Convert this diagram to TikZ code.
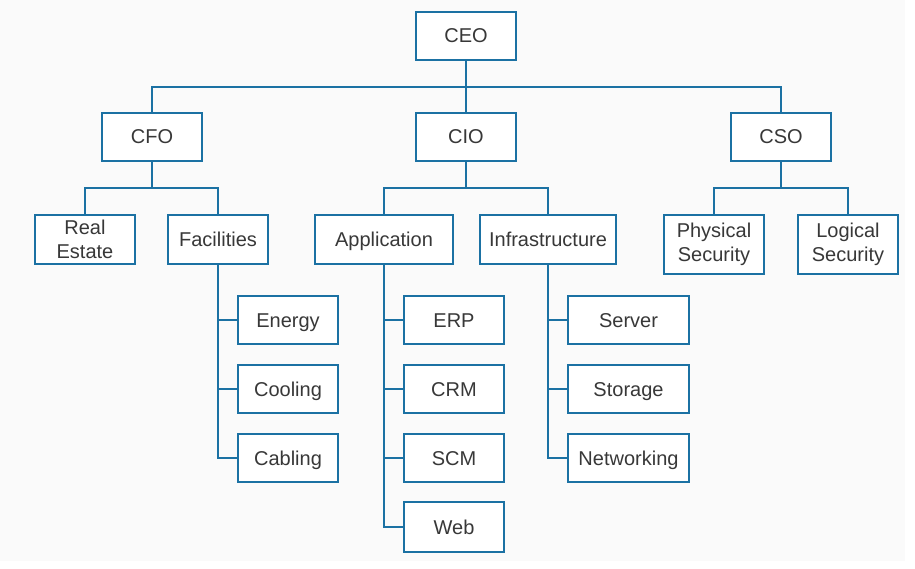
\documentclass[tikz,border=0pt]{standalone}
\usepackage{fontspec}
\setmainfont{Liberation Sans}
\definecolor{lineblue}{HTML}{1B71A3}
\definecolor{txt}{HTML}{383838}
\definecolor{bg}{HTML}{FAFAFA}
\begin{document}
\begin{tikzpicture}[x=1pt,y=-1pt,
  box/.style={draw=lineblue,line width=2pt,fill=white,rectangle,inner sep=0pt,
    minimum width=#1,text=txt,align=center,
    font=\fontsize{20}{24.5}\selectfont},
  box/.default=100pt,
  one/.style={text height=18pt,text depth=4pt},
  conn/.style={draw=lineblue,line width=2pt}]
\useasboundingbox (0,0) rectangle (915,569);
\fill[white] (0,0) rectangle (915,569);
\fill[bg] (0,0) rectangle (905,561);
% top level
\node[box,one,minimum height=48pt] (ceo) at (466,36) {CEO};
\node[box,one,minimum height=48pt] (cfo) at (152,137) {CFO};
\node[box,one,minimum height=48pt] (cio) at (466,137) {CIO};
\node[box,one,minimum height=48pt] (cso) at (781,137) {CSO};
% second level
\node[box,minimum height=49pt] (re) at (85,239.5) {Real\\Estate};
\node[box,one,minimum height=49pt] (fac) at (218,239.5) {Facilities};
\node[box=138pt,one,minimum height=49pt] (app) at (384,239.5) {Application};
\node[box=136pt,one,minimum height=49pt] (inf) at (548,239.5) {Infrastructure};
\node[box,minimum height=59pt] (phy) at (714,244.5) {Physical\\Security};
\node[box,minimum height=59pt] (log) at (848,244.5) {Logical\\Security};
% third level
\node[box,one,minimum height=48pt] (energy) at (288,320) {Energy};
\node[box,one,minimum height=48pt] (cooling) at (288,389) {Cooling};
\node[box,one,minimum height=48pt] (cabling) at (288,458) {Cabling};
\node[box,one,minimum height=48pt] (erp) at (454,320) {ERP};
\node[box,one,minimum height=48pt] (crm) at (454,389) {CRM};
\node[box,one,minimum height=48pt] (scm) at (454,458) {SCM};
\node[box,one,minimum height=50pt] (web) at (454,527) {Web};
\node[box=121pt,one,minimum height=48pt] (server) at (628.5,320) {Server};
\node[box=121pt,one,minimum height=48pt] (storage) at (628.5,389) {Storage};
\node[box=121pt,one,minimum height=48pt] (net) at (628.5,458) {Networking};
% buses
\coordinate (b1) at (466,87);
\coordinate (b2) at (152,188);
\coordinate (b3) at (466,188);
\coordinate (b4) at (781,188);
\draw[conn] (ceo.south) -- (cio.north);
\draw[conn] (cfo.north) |- (b1) -| (cso.north);
\draw[conn] (cfo.south) -- (b2);
\draw[conn] (re.north) |- (b2) -| (fac.north);
\draw[conn] (cio.south) -- (b3);
\draw[conn] (app.north) |- (b3) -| (inf.north);
\draw[conn] (cso.south) -- (b4);
\draw[conn] (phy.north) |- (b4) -| (log.north);
% vertical lists
\draw[conn] (fac.south) |- (cabling.west);
\draw[conn] (fac.south |- energy.west) -- (energy.west);
\draw[conn] (fac.south |- cooling.west) -- (cooling.west);
\draw[conn] (app.south) |- (web.west);
\draw[conn] (app.south |- erp.west) -- (erp.west);
\draw[conn] (app.south |- crm.west) -- (crm.west);
\draw[conn] (app.south |- scm.west) -- (scm.west);
\draw[conn] (inf.south) |- (net.west);
\draw[conn] (inf.south |- server.west) -- (server.west);
\draw[conn] (inf.south |- storage.west) -- (storage.west);
\end{tikzpicture}
\end{document}
